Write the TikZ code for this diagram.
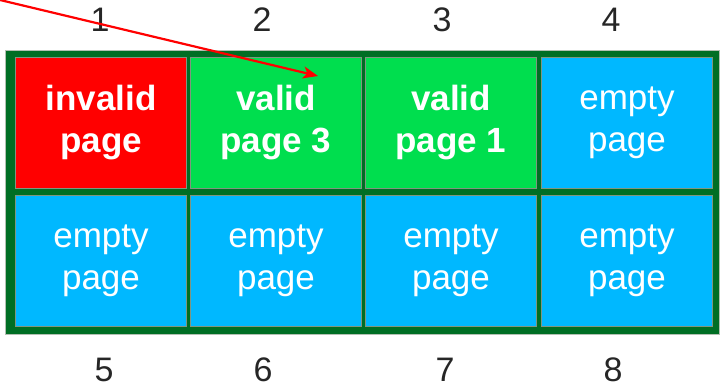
\documentclass[tikz,border=0pt]{standalone}
\usepackage{fontspec}
\setmainfont{Liberation Sans}
\usetikzlibrary{arrows.meta}
\definecolor{framegreen}{RGB}{0,110,36}
\definecolor{pagered}{RGB}{255,0,0}
\definecolor{pagegreen}{RGB}{0,222,78}
\definecolor{pageblue}{RGB}{0,184,255}
\definecolor{edgegray}{RGB}{128,150,128}
\tikzset{
  page/.style={draw=edgegray, line width=1pt, minimum width=171pt, minimum height=131pt,
    inner sep=0pt, text=white, align=center, font=\fontsize{35}{42}\selectfont},
  invalidpage/.style={page, fill=pagered, font=\fontsize{35}{42}\selectfont\bfseries},
  validpage/.style={page, fill=pagegreen, font=\fontsize{35}{42}\selectfont\bfseries},
  emptypage/.style={page, fill=pageblue},
  index/.style={font=\fontsize{34}{38}\selectfont, text=black!85, inner sep=0pt},
  pointer/.style={draw=pagered, line width=2.2pt, -{Stealth[length=15pt,width=12pt,inset=4pt]}}
}
\begin{document}
\begin{tikzpicture}[x=1pt,y=-1pt]
  \useasboundingbox (0,0) rectangle (721,389);
  % block frame
  \fill[framegreen] (5,50) rectangle (719,334);
  \draw[edgegray!60, line width=0.6pt] (5,50) rectangle (719,334);
  % pages, first row
  \node[invalidpage] (c1) at (101,123) {invalid\\page};
  \node[validpage]   (c2) at (276,123) {valid\\page 3};
  \node[validpage]   (c3) at (451,123) {valid\\page 1};
  \node[emptypage]   (c4) at (627,123) {empty\\page};
  % pages, second row
  \node[emptypage] (c5) at (101,261) {empty\\page};
  \node[emptypage] (c6) at (276,261) {empty\\page};
  \node[emptypage] (c7) at (451,261) {empty\\page};
  \node[emptypage] (c8) at (627,261) {empty\\page};
  % page numbers
  \node[index] (n1) at (100,20) {1};
  \node[index] (n2) at (262,20) {2};
  \node[index] (n3) at (442,20) {3};
  \node[index] (n4) at (611,20) {4};
  \node[index] (n5) at (104,370) {5};
  \node[index] (n6) at (263,370) {6};
  \node[index] (n7) at (445,370) {7};
  \node[index] (n8) at (613,370) {8};
  % pointer into page 2
  \coordinate (src) at (0,0);
  \coordinate (dst) at ([shift={(42,-47)}]c2.center);
  \draw[pointer] (src) -- (dst);
\end{tikzpicture}
\end{document}
